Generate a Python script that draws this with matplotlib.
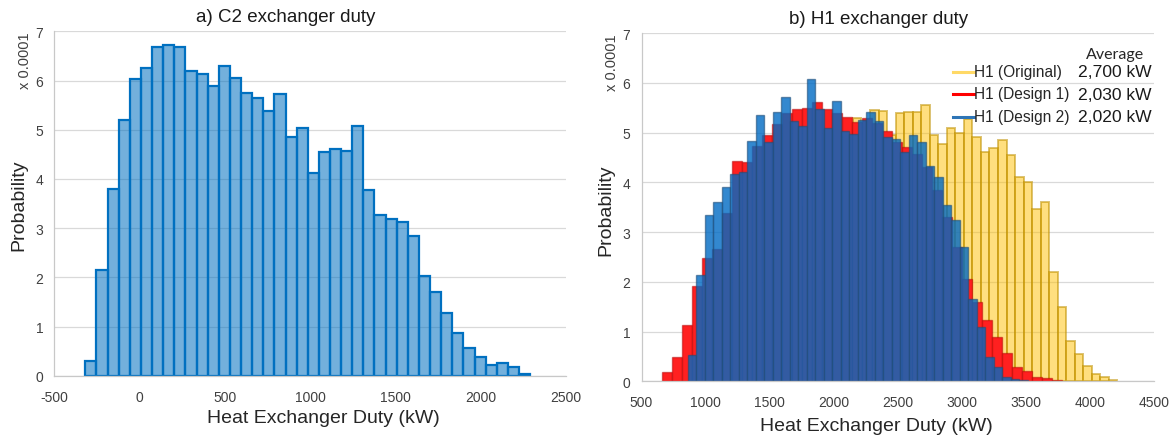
import numpy as np
import matplotlib
matplotlib.use('Agg')
import matplotlib.pyplot as plt
from matplotlib.lines import Line2D
from matplotlib.colors import to_rgba

plt.rcParams['font.family'] = ['Liberation Sans', 'DejaVu Sans']
plt.rcParams['axes.unicode_minus'] = False

# ---------------- data (probability density, x 0.0001 per kW) ----------------
# a) C2 exchanger duty: 40 bins
c2_start = -318.0
c2_width = 65.2
c2_prob = [0.30, 2.15, 3.79, 5.20, 6.04, 6.25, 6.69, 6.73, 6.68, 6.19,
           6.13, 5.89, 6.30, 6.06, 5.75, 5.64, 5.39, 5.72, 4.86, 5.03,
           4.13, 4.55, 4.60, 4.56, 5.08, 3.78, 3.27, 3.18, 3.12, 2.83,
           2.02, 1.71, 1.27, 0.87, 0.56, 0.39, 0.22, 0.25, 0.18, 0.03]

# b) H1 exchanger duty, three cases, 40 bins each
orig_start = 1551.0
orig_width = 66.6
orig_prob = [1.2, 2.2, 3.0, 3.5, 3.9, 4.2, 4.6, 4.9, 5.0, 5.30,
             5.20, 5.46, 5.43, 4.95, 5.39, 5.41, 5.42, 5.55, 4.95, 4.77,
             5.10, 4.99, 5.28, 4.90, 4.60, 4.68, 4.84, 4.55, 4.10, 4.01,
             3.46, 3.60, 2.19, 1.49, 0.80, 0.54, 0.31, 0.15, 0.08, 0.03]

d1_start = 657.0
d1_width = 78.2
d1_prob = [0.18, 0.48, 1.14, 1.92, 2.48, 2.66, 3.38, 4.43, 4.40, 4.72,
           4.94, 5.17, 5.40, 5.47, 5.49, 5.61, 5.47, 5.40, 5.32, 5.22,
           5.30, 5.20, 5.04, 4.80, 4.70, 4.57, 4.30, 3.85, 3.30, 2.70,
           2.06, 1.59, 1.23, 0.90, 0.56, 0.29, 0.20, 0.09, 0.07, 0.03]

d2_start = 860.0
d2_width = 66.35
d2_prob = [0.52, 2.14, 3.35, 3.60, 3.90, 4.17, 4.21, 4.82, 5.36, 4.80,
           5.42, 5.71, 5.24, 5.14, 6.07, 5.47, 5.10, 5.63, 5.04, 4.97,
           5.26, 5.42, 5.24, 4.90, 4.87, 4.60, 4.96, 4.80, 4.33, 4.10,
           3.55, 3.24, 2.70, 1.65, 1.10, 0.48, 0.28, 0.08, 0.05, 0.03]

series_labels = ['H1 (Original)', 'H1 (Design 1)', 'H1 (Design 2)']
series_avgs = ['2,700 kW', '2,030 kW', '2,020 kW']

left_xticks = [-500, 0, 500, 1000, 1500, 2000, 2500]
right_xticks = [500, 1000, 1500, 2000, 2500, 3000, 3500, 4000, 4500]
yticks = [0, 1, 2, 3, 4, 5, 6, 7]

# ---------------- figure ----------------
W, H = 1175, 439
fig = plt.figure(figsize=(W / 100, H / 100), dpi=100)


def fx(x):
    return x / W


def fy(y):
    return 1 - y / H


axL = fig.add_axes([fx(54.3), fy(376.7), (566 - 54.3) / W, (376.7 - 32.3) / H])
axR = fig.add_axes([fx(641.5), fy(382.3), (1154 - 641.5) / W, (382.3 - 34) / H])

tick_col = '#404040'
lab_col = '#262626'


def style(ax, xlim, xticks):
    ax.set_xlim(*xlim)
    ax.set_ylim(0, 7)
    ax.set_xticks(xticks)
    ax.set_yticks(yticks)
    ax.set_axisbelow(True)
    ax.grid(axis='y', color='#d9d9d9', linewidth=0.9)
    for s in ['top', 'right']:
        ax.spines[s].set_visible(False)
    for s in ['left', 'bottom']:
        ax.spines[s].set_color('#c8c8c8')
        ax.spines[s].set_linewidth(0.9)
    ax.tick_params(length=0, labelsize=10, labelcolor=tick_col)
    ax.tick_params(axis='x', pad=10)
    ax.tick_params(axis='y', pad=8)


def bins(start, width, n):
    return start + width * np.arange(n)


# left chart
axL.bar(bins(c2_start, c2_width, len(c2_prob)), c2_prob, width=c2_width,
        align='edge', facecolor=to_rgba('#0070C0', 0.55),
        edgecolor='#0070C0', linewidth=1.6)
style(axL, (-500, 2500), left_xticks)

# right chart
axR.bar(bins(orig_start, orig_width, len(orig_prob)), orig_prob, width=orig_width,
        align='edge', facecolor=to_rgba('#FFC000', 0.5),
        edgecolor=to_rgba('#BF9000', 0.55), linewidth=1.4)
axR.bar(bins(d1_start, d1_width, len(d1_prob)), d1_prob, width=d1_width,
        align='edge', facecolor='#FF2020',
        edgecolor=to_rgba('#B00000', 0.5), linewidth=1.0)
axR.bar(bins(d2_start, d2_width, len(d2_prob)), d2_prob, width=d2_width,
        align='edge', facecolor=to_rgba('#006AC4', 0.8),
        edgecolor=to_rgba('#1F4E79', 0.6), linewidth=1.0)
style(axR, (500, 4500), right_xticks)

# titles & axis labels
fig.text(fx(286), fy(17), 'a) C2 exchanger duty', ha='center', va='center',
         fontsize=13.5, color='#1a1a1a')
fig.text(fx(879), fy(19), 'b) H1 exchanger duty', ha='center', va='center',
         fontsize=13.5, color='#1a1a1a')
fig.text(fx(323), fy(419), 'Heat Exchanger Duty (kW)', ha='center', va='center',
         fontsize=14, color=lab_col)
fig.text(fx(876), fy(427), 'Heat Exchanger Duty (kW)', ha='center', va='center',
         fontsize=14, color=lab_col)
fig.text(fx(18.5), fy(205), 'Probability', ha='center', va='center',
         rotation=90, fontsize=14, color=lab_col)
fig.text(fx(606), fy(210), 'Probability', ha='center', va='center',
         rotation=90, fontsize=14, color=lab_col)
fig.text(fx(25), fy(61), 'x 0.0001', ha='center', va='center',
         rotation=90, fontsize=10.5, color=tick_col)
fig.text(fx(612), fy(63), 'x 0.0001', ha='center', va='center',
         rotation=90, fontsize=10.5, color=tick_col)

# legend with averages
leg_cols = ['#FFD966', '#FF0000', '#2E75B6']
leg_y = [72.7, 95.0, 117.7]
fig.text(fx(1115), fy(55), 'Average', ha='center', va='center',
         fontsize=11.5, family=['Lato', 'DejaVu Sans'], color='#262626')
for lab, avg, col, yy in zip(series_labels, series_avgs, leg_cols, leg_y):
    fig.add_artist(Line2D([fx(953), fx(974)], [fy(yy), fy(yy)], color=col,
                          linewidth=2.2, transform=fig.transFigure))
    fig.text(fx(974), fy(yy), lab, ha='left', va='center', fontsize=11.2,
             color='#262626')
    fig.text(fx(1152), fy(yy), avg, ha='right', va='center', fontsize=12.6,
             color='#1a1a1a')

fig.savefig('out.png', dpi=100, facecolor='white')
